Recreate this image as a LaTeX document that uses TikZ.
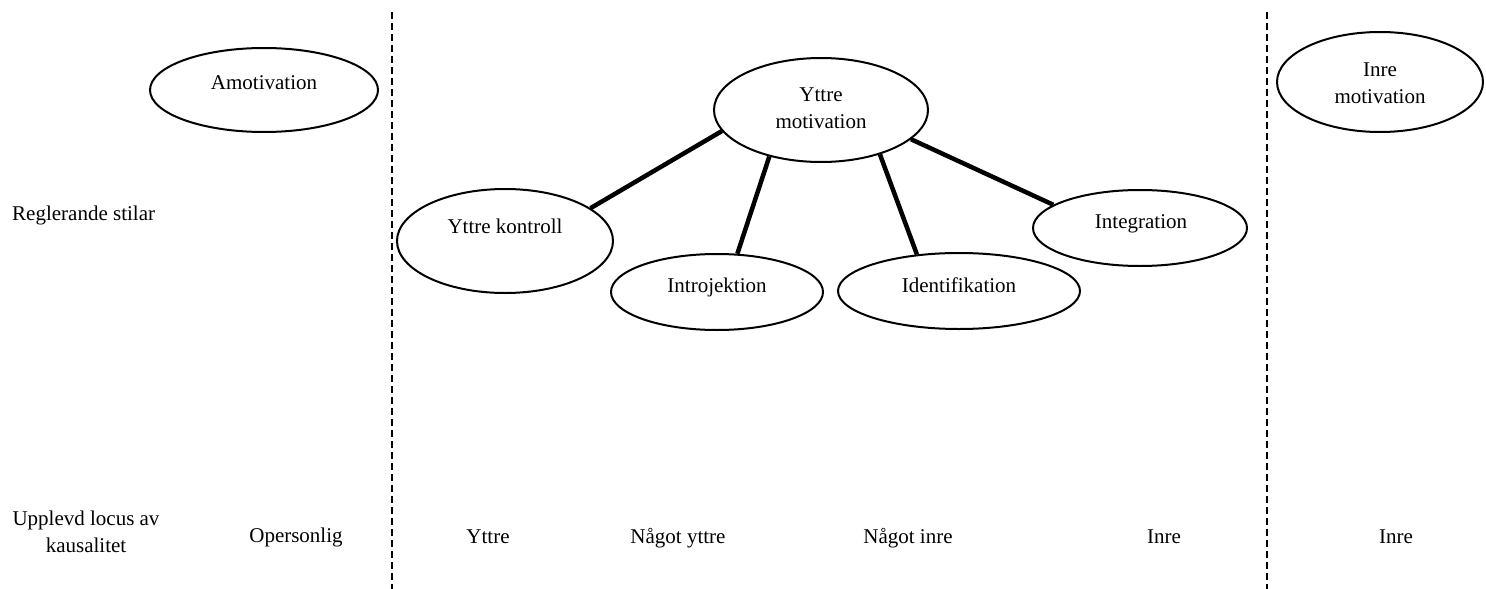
\documentclass[tikz,border=0pt]{standalone}
\usepackage{fontspec}
\setmainfont{Liberation Serif}
\usetikzlibrary{shapes.geometric}
\begin{document}
\begin{tikzpicture}[x=1pt,y=-1pt,
  oval/.style={draw, ellipse, line width=2pt, inner sep=0pt},
  lbl/.style={font=\fontsize{21}{27}\selectfont, inner sep=0pt, anchor=base},
  lbl2/.style={font=\fontsize{21}{27}\selectfont, inner sep=0pt, align=center, anchor=base},
  link/.style={line width=4.5pt},
  divider/.style={line width=2pt, dash pattern=on 7pt off 4pt}]
\useasboundingbox (0,0) rectangle (1486,589);
% dividers
\coordinate (d1t) at (392,12);
\coordinate (d1b) at (392,589);
\coordinate (d2t) at (1267,12);
\coordinate (d2b) at (1267,589);
\draw[divider] (d1t) -- (d1b);
\draw[divider] (d2t) -- (d2b);
% ellipses
\node[oval, minimum width=228pt, minimum height=84pt] (amo) at (264,90) {};
\node[oval, minimum width=214pt, minimum height=104pt] (ym) at (821,110) {};
\node[oval, minimum width=206pt, minimum height=100pt] (im) at (1380,82) {};
\node[oval, minimum width=216pt, minimum height=104pt] (yk) at (505,241) {};
\node[oval, minimum width=212pt, minimum height=76pt] (intro) at (717,292) {};
\node[oval, minimum width=242pt, minimum height=76pt] (ident) at (959,291) {};
\node[oval, minimum width=214pt, minimum height=76pt] (integ) at (1140,228) {};
% texts inside ellipses
\node[lbl] (tamo) at (264,89) {Amotivation};
\node[lbl2] (tym) at (821,128) {Yttre\\motivation};
\node[lbl2] (tim) at (1380,103) {Inre\\motivation};
\node[lbl] (tyk) at (505,233) {Yttre kontroll};
\node[lbl] (tintro) at (717,292) {Introjektion};
\node[lbl] (tident) at (959,292) {Identifikation};
\node[lbl] (tinteg) at (1141,228) {Integration};
% connectors
\draw[link] (ym.192.9) -- (yk.21.9);
\draw[link] (ym.222.2) -- (intro.62.2);
\draw[link] (ym.323.1) -- (ident.139.3);
\draw[link] (ym.342.8) -- (integ.165.3);
% row labels
\node[lbl, anchor=base west] (reg) at (12,220) {Reglerande stilar};
\node[lbl2] (loc) at (86,552) {Upplevd locus av\\kausalitet};
\node[lbl] (l1) at (296,542) {Opersonlig};
\node[lbl] (l2) at (488,543) {Yttre};
\node[lbl] (l3) at (678,543) {Något yttre};
\node[lbl] (l4) at (908,543) {Något inre};
\node[lbl] (l5) at (1164,543) {Inre};
\node[lbl] (l6) at (1396,543) {Inre};
\end{tikzpicture}
\end{document}
